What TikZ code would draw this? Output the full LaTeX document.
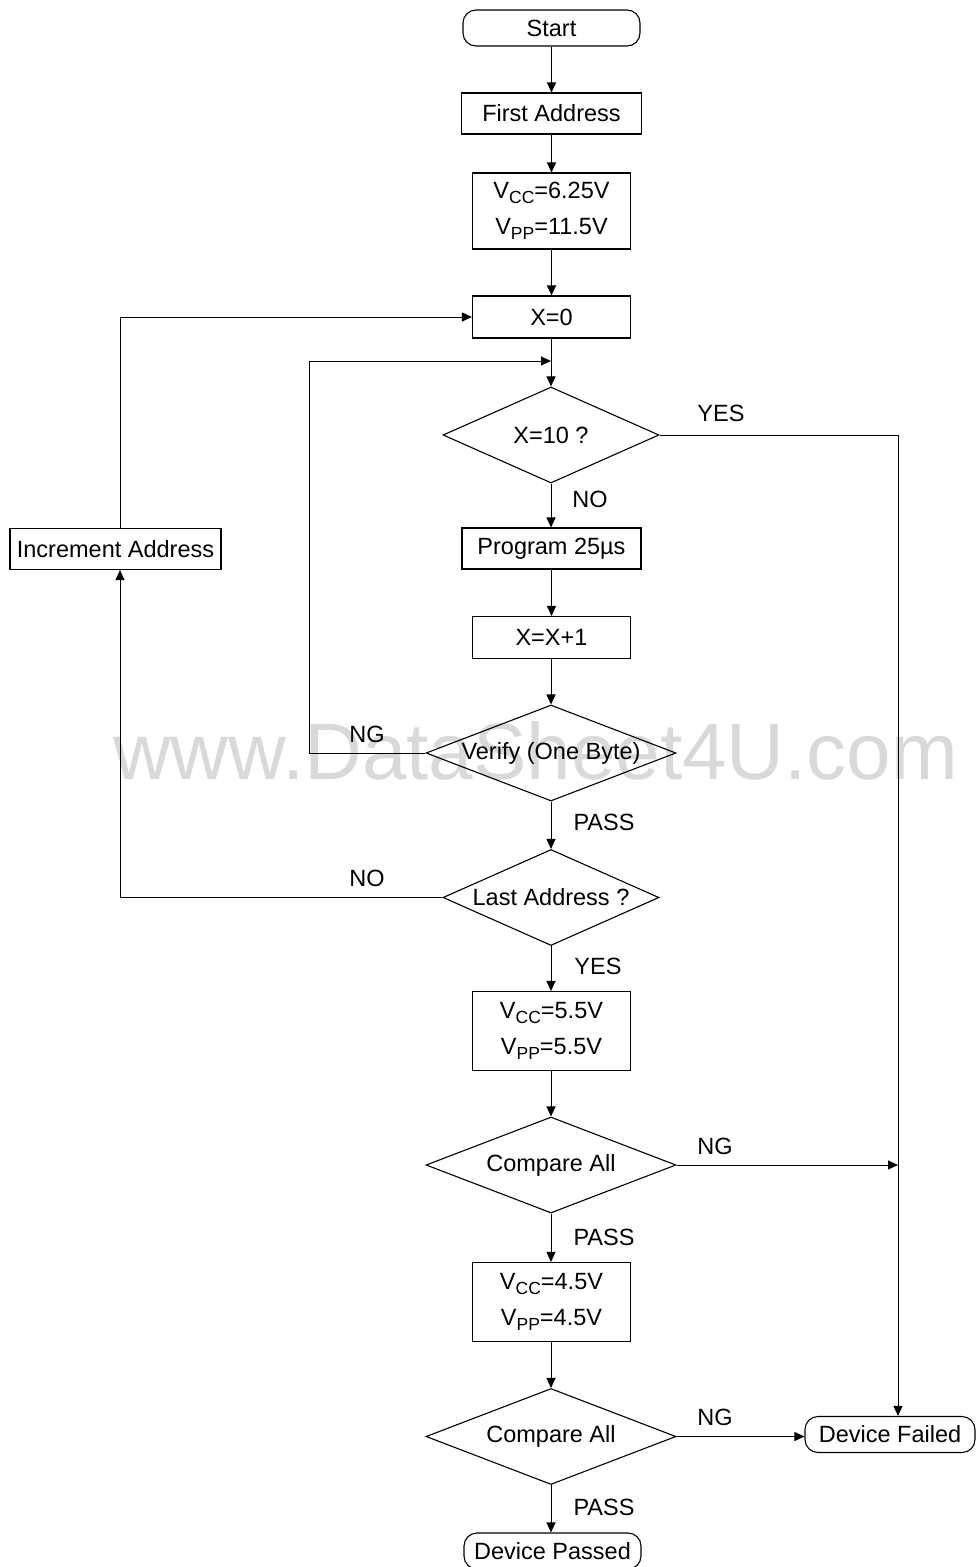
\documentclass[tikz,border=0pt]{standalone}
\usepackage{fontspec}
\setmainfont{Liberation Sans}
\usetikzlibrary{arrows.meta,shapes.geometric}
\newcommand\subtxt[1]{\raisebox{-5pt}{\fontsize{17.5}{17.5}\selectfont #1}}
\begin{document}
\begin{tikzpicture}[x=1pt,y=-1pt,
  every node/.style={font=\fontsize{23.5}{36}\selectfont, inner sep=0pt},
  box/.style={draw, line width=1.1pt, rectangle, align=center},
  term/.style={draw, line width=1.1pt, rectangle, rounded corners=13pt},
  dec/.style={draw, line width=1.1pt, diamond, minimum height=96pt},
  arr/.style={line width=1pt, -{Triangle[length=10pt,width=9pt]}},
  lbl/.style={},
  wmark/.style={anchor=base west, font=\fontsize{80}{80}\selectfont, text=black!15}
]
\useasboundingbox (0,0) rectangle (976,1567);
\node[wmark] (wm) at (113,779) {www.DataSheet4U.com};

\node[term, minimum width=177pt, minimum height=36pt] (start) at (551.5,28) {Start};
\node[box, minimum width=180pt, minimum height=41pt] (first) at (551.5,113.5) {First Address};
\node[box, minimum width=158pt, minimum height=76pt] (v1) at (551.5,211) {V\subtxt{CC}=6.25V\\V\subtxt{PP}=11.5V};
\node[box, minimum width=158pt, minimum height=42pt] (x0) at (551.5,317) {X=0};
\node[dec, minimum width=216pt, label={center:X=10 ?}] (x10) at (551,435) {};
\node[box, minimum width=179pt, minimum height=41pt] (prog) at (551.5,548.5) {Program 25µs};
\node[box, minimum width=158pt, minimum height=42pt] (xinc) at (551.5,637.5) {X=X+1};
\node[dec, minimum width=250pt, label={center:Verify (One Byte)}] (ver) at (551,753) {};
\node[dec, minimum width=216pt, label={center:Last Address ?}] (last) at (551,897.5) {};
\node[box, minimum width=211pt, minimum height=41pt] (incaddr) at (115.5,549) {Increment Address};
\node[box, minimum width=158pt, minimum height=79pt] (v2) at (551.5,1031) {V\subtxt{CC}=5.5V\\V\subtxt{PP}=5.5V};
\node[dec, minimum width=250pt, label={center:Compare All}] (cmp1) at (551,1165) {};
\node[box, minimum width=158pt, minimum height=79pt] (v3) at (551.5,1302) {V\subtxt{CC}=4.5V\\V\subtxt{PP}=4.5V};
\node[dec, minimum width=250pt, label={center:Compare All}] (cmp2) at (551,1436.5) {};
\node[term, minimum width=170pt, minimum height=36pt] (fail) at (890,1434.5) {Device Failed};
\node[term, minimum width=177pt, minimum height=36pt] (pass) at (552.5,1551) {Device Passed};

\coordinate (jn) at (551,361);
\coordinate (lxin) at (309,0);
\coordinate (lx) at (120,0);
\coordinate (rx) at (898,0);

\draw[arr] (start) -- (first);
\draw[arr] (first) -- (v1);
\draw[arr] (v1) -- (x0);
\draw[arr] (x0.south -| x10.north) -- (x10.north);
\draw[arr] (x10.south) -- (x10.south |- prog.north);
\draw[arr] (prog) -- (xinc);
\draw[arr] (xinc.south -| ver.north) -- (ver.north);
\draw[arr] (ver.south) -- (ver.south |- last.north);
\draw[arr] (last.south) -- (last.south |- v2.north);
\draw[arr] (v2.south -| cmp1.north) -- (cmp1.north);
\draw[arr] (cmp1.south) -- (cmp1.south |- v3.north);
\draw[arr] (v3.south -| cmp2.north) -- (cmp2.north);
\draw[arr] (cmp2.south) -- (cmp2.south |- pass.north);

\draw[arr] (ver.west) -| (lxin |- jn) -- (jn);
\draw[arr] (last.west) -| (incaddr.south -| lx);
\draw[arr] (incaddr.north -| lx) |- (x0.west);
\draw[arr] (x10.east) -| (fail.north -| rx);
\draw[arr] (cmp1.east) -- (cmp1.east -| rx);
\draw[arr] (cmp2.east) -- (cmp2.east -| fail.west);

\node[lbl] (l1) at (721,413) {YES};
\node[lbl] (l2) at (590,499) {NO};
\node[lbl] (l3) at (367,734) {NG};
\node[lbl] (l4) at (604,822) {PASS};
\node[lbl] (l5) at (367,878) {NO};
\node[lbl] (l6) at (598,966) {YES};
\node[lbl] (l7) at (715,1146) {NG};
\node[lbl] (l8) at (604,1237) {PASS};
\node[lbl] (l9) at (715,1417) {NG};
\node[lbl] (l10) at (604,1507) {PASS};
\end{tikzpicture}
\end{document}
